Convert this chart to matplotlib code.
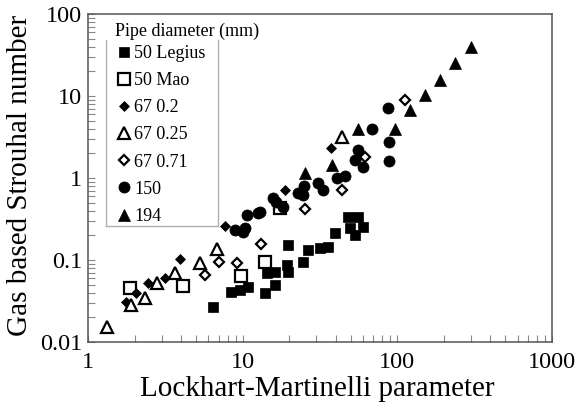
import matplotlib
matplotlib.use("Agg")
import matplotlib.pyplot as plt
from matplotlib.lines import Line2D
from matplotlib.ticker import LogLocator, NullFormatter, FixedLocator, FixedFormatter

plt.rcParams['font.family'] = ['Liberation Serif', 'DejaVu Serif']

# ---- data ----
legius_x = [6.4, 8.4, 9.6, 10.8, 13.9, 16.2, 14.4, 16.2, 19.3, 19.6, 19.6, 24.5,
            26.4, 31.6, 35.6, 39.5, 48.0, 55.6, 49.4, 59.9, 53.2]
legius_y = [0.027, 0.041, 0.043, 0.047, 0.040, 0.050, 0.069, 0.071, 0.087, 0.071,
            0.152, 0.095, 0.132, 0.140, 0.144, 0.213, 0.334, 0.334, 0.245, 0.253, 0.202]

mao_x = [1.87, 4.1, 9.75, 13.9, 17.4]
mao_y = [0.045, 0.048, 0.064, 0.095, 0.43]

d67_02_x = [1.76, 2.04, 2.44, 3.14, 3.93, 7.69, 18.8, 37.2]
d67_02_y = [0.031, 0.040, 0.052, 0.060, 0.103, 0.26, 0.71, 2.32]

d67_025_x = [1.33, 1.90, 2.34, 2.79, 3.65, 5.30, 6.82, 43.8]
d67_025_y = [0.0152, 0.0283, 0.0344, 0.0524, 0.0694, 0.092, 0.136, 3.16]

d67_071_x = [5.71, 7.03, 9.19, 13.1, 25.3, 43.8, 61.8, 112.0]
d67_071_y = [0.0656, 0.0946, 0.092, 0.157, 0.419, 0.714, 1.82, 8.93]

d150_x = [8.9, 10.1, 10.3, 10.6, 12.6, 12.9, 15.8, 16.5, 18.3, 22.8, 24.5, 25.0,
          30.7, 33.0, 40.7, 45.8, 53.2, 55.6, 59.9, 68.5, 87.0, 88.2, 88.2]
d150_y = [0.232, 0.218, 0.245, 0.354, 0.37, 0.39, 0.565, 0.51, 0.447, 0.656, 0.62, 0.80,
          0.87, 0.714, 1.0, 1.06, 1.66, 2.19, 1.36, 3.96, 7.14, 2.75, 1.61]

d194_x = [25.3, 37.8, 55.6, 96.5, 120.6, 151.0, 188.0, 236.0, 299.0]
d194_y = [1.15, 1.44, 3.96, 3.96, 6.75, 10.3, 15.7, 25.3, 39.6]

labels = ["50 Legius", "50 Mao", "67 0.2", "67 0.25", "67 0.71", "150", "194"]
x_ticks = [1, 10, 100, 1000]
x_ticklabels = ["1", "10", "100", "1000"]
y_ticks = [0.01, 0.1, 1, 10, 100]
y_ticklabels = ["0.01", "0.1", "1", "10", "100"]

fig = plt.figure(figsize=(5.76, 4.11), dpi=100)
ax = fig.add_axes([88/576, 1-342/411, 464/576, 328/411])

h1, = ax.plot(legius_x, legius_y, 's', ms=7.4, mfc='black', mec='black', mew=0.5, ls='none')
h2, = ax.plot(mao_x, mao_y, 's', ms=8.2, mfc='white', mec='black', mew=1.6, ls='none')
h3, = ax.plot(d67_02_x, d67_02_y, 'D', ms=5.0, mfc='black', mec='black', mew=0.5, ls='none')
h4, = ax.plot(d67_025_x, d67_025_y, '^', ms=9.0, mfc='white', mec='black', mew=1.6, ls='none')
h5, = ax.plot(d67_071_x, d67_071_y, 'D', ms=4.8, mfc='white', mec='black', mew=1.6, ls='none')
h6, = ax.plot(d150_x, d150_y, 'o', ms=8.0, mfc='black', mec='black', mew=0.5, ls='none')
h7, = ax.plot(d194_x, d194_y, '^', ms=8.4, mfc='black', mec='black', mew=0.5, ls='none')

ax.set_xscale('log')
ax.set_yscale('log')
ax.set_xlim(1, 1000)
ax.set_ylim(0.01, 100)

ax.xaxis.set_major_locator(FixedLocator(x_ticks))
ax.xaxis.set_major_formatter(FixedFormatter(x_ticklabels))
ax.yaxis.set_major_locator(FixedLocator(y_ticks))
ax.yaxis.set_major_formatter(FixedFormatter(y_ticklabels))
ax.xaxis.set_minor_locator(LogLocator(base=10, subs=range(2, 10)))
ax.yaxis.set_minor_locator(LogLocator(base=10, subs=range(2, 10)))
ax.xaxis.set_minor_formatter(NullFormatter())
ax.yaxis.set_minor_formatter(NullFormatter())

spine_col = '#555555'
for s in ax.spines.values():
    s.set_color(spine_col)
    s.set_linewidth(1.1)
ax.tick_params(which='both', direction='in', top=False, right=False,
               color='#888888', width=0.8)
ax.tick_params(which='major', length=5)
ax.tick_params(which='minor', length=5)
ax.tick_params(axis='x', which='major', labelsize=17.5, pad=7)
ax.tick_params(axis='y', which='major', labelsize=17.5, pad=4)

ax.set_xlabel("Lockhart-Martinelli parameter", fontsize=21)
ax.set_ylabel("Gas based Strouhal number", fontsize=21)
ax.xaxis.set_label_coords(0.494, -0.105)
ax.yaxis.set_label_coords(-0.118, 0.509)

leg = ax.legend([h1, h2, h3, h4, h5, h6, h7], labels, loc='upper left',
                bbox_to_anchor=(0.065, 0.905), frameon=False, fontsize=13,
                handlelength=0.7, handletextpad=0.2, labelspacing=0.56,
                borderpad=0, borderaxespad=0, numpoints=1)

ax.text(0.058, 0.948, "Pipe diameter (mm)", transform=ax.transAxes,
        fontsize=13, va='center', ha='left')

frame_col = '#b0b0b0'
bx0, bx1, by0, by1 = 0.038, 0.2795, 0.3546, 0.921
for xs, ys in [([bx0, bx0], [by0, by1]), ([bx1, bx1], [by0, by1]), ([bx0, bx1], [by0, by0])]:
    ax.add_line(Line2D(xs, ys, transform=ax.transAxes, color=frame_col, lw=1.0))

fig.savefig("out.png", dpi=100)
